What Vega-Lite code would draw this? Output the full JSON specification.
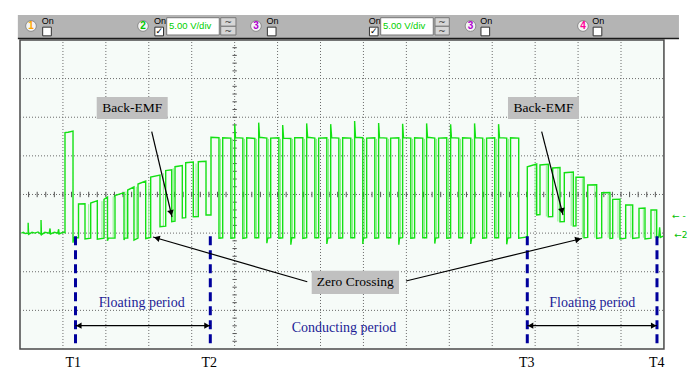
{
"$schema": "https://vega.github.io/schema/vega-lite/v6.json",
"width": 700, "height": 380,
"autosize": {"type": "fit", "contains": "padding"},
"padding": 0,
"background": "#ffffff",
"config": {"view": {"stroke": null}},
"encoding": {
 "x": {"field": "x", "type": "quantitative", "scale": {"domain": [-0.4659, 15.8401], "nice": false, "zero": false}, "axis": null},
 "y": {"field": "y", "type": "quantitative", "scale": {"domain": [-0.8025, 9.0344], "nice": false, "zero": false}, "axis": null}
},
"layer": [
 {"data": {"values": [{"x": -0.05, "x2": 15.35, "y": 8.05, "y2": 8.646}]},
  "mark": {"type": "rect", "fill": "#b4b4b4"},
  "encoding": {"x2": {"field": "x2"}, "y2": {"field": "y2"}}},
 {"data": {"values": [{"x": -0.05, "x2": 15.35, "y": 8.04}]},
  "mark": {"type": "rule", "stroke": "#1a1a1a", "strokeWidth": 1.5},
  "encoding": {"x2": {"field": "x2"}}},
 {"data": {"values": [{"x": 0, "x2": 15, "y": 0, "y2": 8}]},
  "mark": {"type": "rect", "fill": "#f6fbf8", "stroke": "#4a4a4a", "strokeWidth": 1.5},
  "encoding": {"x2": {"field": "x2"}, "y2": {"field": "y2"}}},
 {"data": {"values": [{"x":1,"y":0,"y2":8},{"x":2,"y":0,"y2":8},{"x":3,"y":0,"y2":8},{"x":4,"y":0,"y2":8},{"x":5,"y":0,"y2":8},{"x":6,"y":0,"y2":8},{"x":7,"y":0,"y2":8},{"x":8,"y":0,"y2":8},{"x":9,"y":0,"y2":8},{"x":10,"y":0,"y2":8},{"x":11,"y":0,"y2":8},{"x":12,"y":0,"y2":8},{"x":13,"y":0,"y2":8},{"x":14,"y":0,"y2":8}]},
  "mark": {"type": "rule", "stroke": "#6a6a6a", "strokeWidth": 1, "strokeDash": [1, 2]},
  "encoding": {"y2": {"field": "y2"}}},
 {"data": {"values": [{"y":1,"x":0,"x2":15},{"y":2,"x":0,"x2":15},{"y":3,"x":0,"x2":15},{"y":4,"x":0,"x2":15},{"y":5,"x":0,"x2":15},{"y":6,"x":0,"x2":15},{"y":7,"x":0,"x2":15}]},
  "mark": {"type": "rule", "stroke": "#6a6a6a", "strokeWidth": 1, "strokeDash": [1, 2]},
  "encoding": {"x2": {"field": "x2"}}},
 {"data": {"values": [{"x":0.2,"y":3.93,"y2":4.07},{"x":0.4,"y":3.93,"y2":4.07},{"x":0.6,"y":3.93,"y2":4.07},{"x":0.8,"y":3.93,"y2":4.07},{"x":1,"y":3.93,"y2":4.07},{"x":1.2,"y":3.93,"y2":4.07},{"x":1.4,"y":3.93,"y2":4.07},{"x":1.6,"y":3.93,"y2":4.07},{"x":1.8,"y":3.93,"y2":4.07},{"x":2,"y":3.93,"y2":4.07},{"x":2.2,"y":3.93,"y2":4.07},{"x":2.4,"y":3.93,"y2":4.07},{"x":2.6,"y":3.93,"y2":4.07},{"x":2.8,"y":3.93,"y2":4.07},{"x":3,"y":3.93,"y2":4.07},{"x":3.2,"y":3.93,"y2":4.07},{"x":3.4,"y":3.93,"y2":4.07},{"x":3.6,"y":3.93,"y2":4.07},{"x":3.8,"y":3.93,"y2":4.07},{"x":4,"y":3.93,"y2":4.07},{"x":4.2,"y":3.93,"y2":4.07},{"x":4.4,"y":3.93,"y2":4.07},{"x":4.6,"y":3.93,"y2":4.07},{"x":4.8,"y":3.93,"y2":4.07},{"x":5,"y":3.93,"y2":4.07},{"x":5.2,"y":3.93,"y2":4.07},{"x":5.4,"y":3.93,"y2":4.07},{"x":5.6,"y":3.93,"y2":4.07},{"x":5.8,"y":3.93,"y2":4.07},{"x":6,"y":3.93,"y2":4.07},{"x":6.2,"y":3.93,"y2":4.07},{"x":6.4,"y":3.93,"y2":4.07},{"x":6.6,"y":3.93,"y2":4.07},{"x":6.8,"y":3.93,"y2":4.07},{"x":7,"y":3.93,"y2":4.07},{"x":7.2,"y":3.93,"y2":4.07},{"x":7.4,"y":3.93,"y2":4.07},{"x":7.6,"y":3.93,"y2":4.07},{"x":7.8,"y":3.93,"y2":4.07},{"x":8,"y":3.93,"y2":4.07},{"x":8.2,"y":3.93,"y2":4.07},{"x":8.4,"y":3.93,"y2":4.07},{"x":8.6,"y":3.93,"y2":4.07},{"x":8.8,"y":3.93,"y2":4.07},{"x":9,"y":3.93,"y2":4.07},{"x":9.2,"y":3.93,"y2":4.07},{"x":9.4,"y":3.93,"y2":4.07},{"x":9.6,"y":3.93,"y2":4.07},{"x":9.8,"y":3.93,"y2":4.07},{"x":10,"y":3.93,"y2":4.07},{"x":10.2,"y":3.93,"y2":4.07},{"x":10.4,"y":3.93,"y2":4.07},{"x":10.6,"y":3.93,"y2":4.07},{"x":10.8,"y":3.93,"y2":4.07},{"x":11,"y":3.93,"y2":4.07},{"x":11.2,"y":3.93,"y2":4.07},{"x":11.4,"y":3.93,"y2":4.07},{"x":11.6,"y":3.93,"y2":4.07},{"x":11.8,"y":3.93,"y2":4.07},{"x":12,"y":3.93,"y2":4.07},{"x":12.2,"y":3.93,"y2":4.07},{"x":12.4,"y":3.93,"y2":4.07},{"x":12.6,"y":3.93,"y2":4.07},{"x":12.8,"y":3.93,"y2":4.07},{"x":13,"y":3.93,"y2":4.07},{"x":13.2,"y":3.93,"y2":4.07},{"x":13.4,"y":3.93,"y2":4.07},{"x":13.6,"y":3.93,"y2":4.07},{"x":13.8,"y":3.93,"y2":4.07},{"x":14,"y":3.93,"y2":4.07},{"x":14.2,"y":3.93,"y2":4.07},{"x":14.4,"y":3.93,"y2":4.07},{"x":14.6,"y":3.93,"y2":4.07},{"x":14.8,"y":3.93,"y2":4.07}]},
  "mark": {"type": "rule", "stroke": "#555555", "strokeWidth": 1},
  "encoding": {"y2": {"field": "y2"}}},
 {"data": {"values": [{"y":0.2,"x":4.95,"x2":5.05},{"y":0.4,"x":4.95,"x2":5.05},{"y":0.6,"x":4.95,"x2":5.05},{"y":0.8,"x":4.95,"x2":5.05},{"y":1,"x":4.95,"x2":5.05},{"y":1.2,"x":4.95,"x2":5.05},{"y":1.4,"x":4.95,"x2":5.05},{"y":1.6,"x":4.95,"x2":5.05},{"y":1.8,"x":4.95,"x2":5.05},{"y":2,"x":4.95,"x2":5.05},{"y":2.2,"x":4.95,"x2":5.05},{"y":2.4,"x":4.95,"x2":5.05},{"y":2.6,"x":4.95,"x2":5.05},{"y":2.8,"x":4.95,"x2":5.05},{"y":3,"x":4.95,"x2":5.05},{"y":3.2,"x":4.95,"x2":5.05},{"y":3.4,"x":4.95,"x2":5.05},{"y":3.6,"x":4.95,"x2":5.05},{"y":3.8,"x":4.95,"x2":5.05},{"y":4.2,"x":4.95,"x2":5.05},{"y":4.4,"x":4.95,"x2":5.05},{"y":4.6,"x":4.95,"x2":5.05},{"y":4.8,"x":4.95,"x2":5.05},{"y":5,"x":4.95,"x2":5.05},{"y":5.2,"x":4.95,"x2":5.05},{"y":5.4,"x":4.95,"x2":5.05},{"y":5.6,"x":4.95,"x2":5.05},{"y":5.8,"x":4.95,"x2":5.05},{"y":6,"x":4.95,"x2":5.05},{"y":6.2,"x":4.95,"x2":5.05},{"y":6.4,"x":4.95,"x2":5.05},{"y":6.6,"x":4.95,"x2":5.05},{"y":6.8,"x":4.95,"x2":5.05},{"y":7,"x":4.95,"x2":5.05},{"y":7.2,"x":4.95,"x2":5.05},{"y":7.4,"x":4.95,"x2":5.05},{"y":7.6,"x":4.95,"x2":5.05},{"y":7.8,"x":4.95,"x2":5.05}]},
  "mark": {"type": "rule", "stroke": "#555555", "strokeWidth": 1},
  "encoding": {"x2": {"field": "x2"}}},
 {"data": {"values": [
  {"x":1.6,"y":2.88,"y2":3.75},{"x":1.91,"y":2.88,"y2":3.83},{"x":2.17,"y":2.88,"y2":3.95},{"x":2.47,"y":2.88,"y2":4.08},{"x":2.71,"y":2.88,"y2":4.2},{"x":3.0,"y":2.88,"y2":4.3},{"x":3.34,"y":3.17,"y2":4.55},{"x":3.57,"y":3.3,"y2":4.68},{"x":4.1,"y":3.43,"y2":4.8},
  {"x":4.672,"y":2.86,"y2":5.44},{"x":4.951,"y":2.86,"y2":5.44},{"x":5.231,"y":2.86,"y2":5.44},{"x":5.51,"y":2.86,"y2":5.44},{"x":5.79,"y":2.86,"y2":5.44},{"x":6.069,"y":2.86,"y2":5.44},{"x":6.348,"y":2.86,"y2":5.44},{"x":6.628,"y":2.86,"y2":5.44},{"x":6.907,"y":2.86,"y2":5.44},{"x":7.187,"y":2.86,"y2":5.44},{"x":7.466,"y":2.86,"y2":5.44},{"x":7.745,"y":2.86,"y2":5.44},{"x":8.025,"y":2.86,"y2":5.44},{"x":8.304,"y":2.86,"y2":5.44},{"x":8.584,"y":2.86,"y2":5.44},{"x":8.863,"y":2.86,"y2":5.44},{"x":9.142,"y":2.86,"y2":5.44},{"x":9.422,"y":2.86,"y2":5.44},{"x":9.701,"y":2.86,"y2":5.44},{"x":9.981,"y":2.86,"y2":5.44},{"x":10.26,"y":2.86,"y2":5.44},{"x":10.539,"y":2.86,"y2":5.44},{"x":10.819,"y":2.86,"y2":5.44},{"x":11.098,"y":2.86,"y2":5.44},{"x":11.377,"y":2.86,"y2":5.44},
  {"x":12.0,"y":3.47,"y2":4.75},{"x":12.26,"y":3.43,"y2":4.75},{"x":12.53,"y":3.3,"y2":4.68},{"x":12.84,"y":3.19,"y2":4.55},{"x":13.1,"y":2.88,"y2":4.42},{"x":13.39,"y":2.88,"y2":4.22},{"x":13.7,"y":2.88,"y2":4.02},{"x":13.93,"y":2.88,"y2":3.85},{"x":14.23,"y":2.88,"y2":3.7},{"x":14.52,"y":2.88,"y2":3.62},{"x":14.79,"y":2.88,"y2":3.58}]},
  "mark": {"type": "rule", "stroke": "#8cf28c", "strokeWidth": 1},
  "encoding": {"y2": {"field": "y2"}}},
 {"data": {"values": [
  {"x":0.03,"y":3.0},{"x":0.08,"y":3.02},{"x":0.12,"y":2.99},{"x":0.19,"y":3.0},{"x":0.19,"y":3.27},{"x":0.2,"y":2.97},{"x":0.28,"y":3.02},{"x":0.35,"y":3.0},{"x":0.42,"y":3.03},{"x":0.49,"y":2.97},{"x":0.49,"y":3.34},{"x":0.5,"y":2.96},{"x":0.58,"y":3.02},{"x":0.68,"y":3.0},{"x":0.7,"y":3.12},{"x":0.71,"y":2.98},{"x":0.8,"y":3.02},{"x":0.88,"y":3.0},{"x":0.9,"y":3.1},{"x":0.91,"y":2.98},{"x":1.0,"y":3.02},{"x":1.048,"y":3.01},
  {"x":1.048,"y":5.6},{"x":1.12,"y":5.61},{"x":1.235,"y":5.64},{"x":1.235,"y":2.75},{"x":1.25,"y":2.88},{"x":1.363,"y":2.88},{"x":1.363,"y":3.754},{"x":1.514,"y":3.76},{"x":1.514,"y":2.85},{"x":1.647,"y":2.87},{"x":1.647,"y":3.779},{"x":1.801,"y":3.839},{"x":1.801,"y":2.84},{"x":1.957,"y":2.87},{"x":1.957,"y":3.875},{"x":2.038,"y":3.935},{"x":2.038,"y":2.8},{"x":2.06,"y":2.87},{"x":2.213,"y":2.87},{"x":2.213,"y":3.974},{"x":2.423,"y":4.046},{"x":2.423,"y":2.82},{"x":2.44,"y":2.87},{"x":2.509,"y":2.87},{"x":2.509,"y":4.116},{"x":2.655,"y":4.194},{"x":2.655,"y":2.82},{"x":2.749,"y":2.87},{"x":2.749,"y":4.271},{"x":2.928,"y":4.349},{"x":2.928,"y":2.86},{"x":3.044,"y":2.89},{"x":3.044,"y":4.452},{"x":3.261,"y":4.504},{"x":3.261,"y":3.166},{"x":3.394,"y":3.18},{"x":3.394,"y":4.616},{"x":3.534,"y":4.64},{"x":3.534,"y":3.295},{"x":3.611,"y":3.31},{"x":3.611,"y":4.719},{"x":3.781,"y":4.75},{"x":3.781,"y":3.391},{"x":3.86,"y":3.4},{"x":3.86,"y":4.823},{"x":4.037,"y":4.84},{"x":4.037,"y":3.425},{"x":4.153,"y":3.43},{"x":4.153,"y":4.849},{"x":4.333,"y":4.86},{"x":4.333,"y":3.469},{"x":4.449,"y":3.47},{"x":4.449,"y":5.48},{"x":4.635,"y":5.47},{"x":4.635,"y":2.87},
  {"x":4.722,"y":2.88},{"x":4.722,"y":5.47},{"x":4.912,"y":5.46},{"x":4.912,"y":2.87},
  {"x":5.001,"y":2.88},{"x":5.001,"y":5.82},{"x":5.02,"y":5.47},{"x":5.191,"y":5.46},{"x":5.191,"y":2.86},
  {"x":5.281,"y":2.88},{"x":5.281,"y":5.47},{"x":5.471,"y":5.45},{"x":5.471,"y":2.88},
  {"x":5.56,"y":2.88},{"x":5.56,"y":5.86},{"x":5.58,"y":5.48},{"x":5.75,"y":5.46},{"x":5.75,"y":2.74},{"x":5.77,"y":2.87},
  {"x":5.84,"y":2.88},{"x":5.84,"y":5.46},{"x":6.03,"y":5.47},{"x":6.03,"y":2.87},
  {"x":6.119,"y":2.88},{"x":6.119,"y":5.8},{"x":6.14,"y":5.46},{"x":6.309,"y":5.45},{"x":6.309,"y":2.7},{"x":6.33,"y":2.88},
  {"x":6.398,"y":2.88},{"x":6.398,"y":5.47},{"x":6.588,"y":5.47},{"x":6.588,"y":2.86},
  {"x":6.678,"y":2.88},{"x":6.678,"y":5.84},{"x":6.7,"y":5.48},{"x":6.868,"y":5.46},{"x":6.868,"y":2.88},
  {"x":6.957,"y":2.88},{"x":6.957,"y":5.46},{"x":7.147,"y":5.47},{"x":7.147,"y":2.72},{"x":7.17,"y":2.87},
  {"x":7.237,"y":2.88},{"x":7.237,"y":5.82},{"x":7.26,"y":5.47},{"x":7.427,"y":5.46},{"x":7.427,"y":2.87},
  {"x":7.516,"y":2.88},{"x":7.516,"y":5.47},{"x":7.706,"y":5.46},{"x":7.706,"y":2.88},
  {"x":7.795,"y":2.88},{"x":7.795,"y":5.9},{"x":7.815,"y":5.48},{"x":7.985,"y":5.47},{"x":7.985,"y":2.72},{"x":8.0,"y":2.87},
  {"x":8.075,"y":2.88},{"x":8.075,"y":5.46},{"x":8.265,"y":5.47},{"x":8.265,"y":2.87},
  {"x":8.354,"y":2.88},{"x":8.354,"y":5.85},{"x":8.374,"y":5.47},{"x":8.544,"y":5.46},{"x":8.544,"y":2.88},
  {"x":8.634,"y":2.88},{"x":8.634,"y":5.46},{"x":8.824,"y":5.47},{"x":8.824,"y":2.7},{"x":8.84,"y":2.87},
  {"x":8.913,"y":2.88},{"x":8.913,"y":5.83},{"x":8.933,"y":5.47},{"x":9.103,"y":5.46},{"x":9.103,"y":2.87},
  {"x":9.192,"y":2.88},{"x":9.192,"y":5.47},{"x":9.382,"y":5.46},{"x":9.382,"y":2.88},
  {"x":9.472,"y":2.88},{"x":9.472,"y":5.84},{"x":9.492,"y":5.48},{"x":9.662,"y":5.46},{"x":9.662,"y":2.73},{"x":9.68,"y":2.87},
  {"x":9.751,"y":2.88},{"x":9.751,"y":5.46},{"x":9.941,"y":5.47},{"x":9.941,"y":2.87},
  {"x":10.031,"y":2.88},{"x":10.031,"y":5.82},{"x":10.05,"y":5.47},{"x":10.221,"y":5.46},{"x":10.221,"y":2.88},
  {"x":10.31,"y":2.88},{"x":10.31,"y":5.47},{"x":10.5,"y":5.46},{"x":10.5,"y":2.72},{"x":10.52,"y":2.87},
  {"x":10.589,"y":2.88},{"x":10.589,"y":5.84},{"x":10.61,"y":5.47},{"x":10.779,"y":5.46},{"x":10.779,"y":2.87},
  {"x":10.869,"y":2.88},{"x":10.869,"y":5.46},{"x":11.059,"y":5.47},{"x":11.059,"y":2.88},
  {"x":11.148,"y":2.88},{"x":11.148,"y":5.82},{"x":11.17,"y":5.47},{"x":11.338,"y":5.46},{"x":11.338,"y":2.71},{"x":11.36,"y":2.87},
  {"x":11.427,"y":2.88},{"x":11.427,"y":5.47},{"x":11.617,"y":5.46},{"x":11.617,"y":2.87},
  {"x":11.817,"y":2.9},{"x":11.817,"y":4.719},{"x":12.036,"y":4.789},{"x":12.036,"y":3.469},{"x":12.113,"y":3.48},{"x":12.113,"y":4.763},{"x":12.306,"y":4.78},{"x":12.306,"y":3.425},{"x":12.409,"y":3.43},{"x":12.409,"y":4.686},{"x":12.579,"y":4.7},{"x":12.579,"y":3.295},{"x":12.679,"y":3.3},{"x":12.679,"y":4.564},{"x":12.889,"y":4.58},{"x":12.889,"y":3.184},{"x":12.951,"y":3.19},{"x":12.951,"y":4.445},{"x":13.138,"y":4.45},{"x":13.138,"y":2.88},{"x":13.224,"y":2.89},{"x":13.224,"y":4.245},{"x":13.433,"y":4.25},{"x":13.433,"y":2.86},{"x":13.55,"y":2.88},{"x":13.55,"y":4.046},{"x":13.743,"y":4.05},{"x":13.743,"y":2.86},{"x":13.806,"y":2.87},{"x":13.806,"y":3.875},{"x":13.976,"y":3.88},{"x":13.976,"y":2.85},{"x":14.109,"y":2.87},{"x":14.109,"y":3.728},{"x":14.272,"y":3.73},{"x":14.272,"y":2.86},{"x":14.419,"y":2.88},{"x":14.419,"y":3.642},{"x":14.559,"y":3.65},{"x":14.559,"y":2.85},{"x":14.698,"y":2.87},{"x":14.698,"y":3.598},{"x":14.831,"y":3.6},{"x":14.831,"y":2.87},{"x":14.88,"y":2.9},{"x":14.9,"y":3.15},{"x":14.92,"y":2.89},{"x":14.98,"y":2.92}
 ]},
  "mark": {"type": "line", "color": "#14e014", "strokeWidth": 1.4},
  "encoding": {"order": {"value": null}}},
 {"data": {"values": [{"x":1.293,"y":2.92,"y2":0.08},{"x":4.433,"y":2.92,"y2":0.08},{"x":11.817,"y":2.92,"y2":0.08},{"x":14.838,"y":2.92,"y2":0.08}]},
  "mark": {"type": "rule", "stroke": "#00009c", "strokeWidth": 3, "strokeDash": [9, 5]},
  "encoding": {"y2": {"field": "y2"}}},
 {"data": {"values": [
  {"x":3.068,"y":5.625,"x2":3.541,"y2":3.417},
  {"x":12.152,"y":5.625,"x2":12.649,"y2":3.469},
  {"x":6.692,"y":1.742,"x2":3.098,"y2":2.899},
  {"x":8.991,"y":1.76,"x2":13.091,"y2":2.861},
  {"x":1.293,"y":0.603,"x2":4.433,"y2":0.603},
  {"x":11.817,"y":0.603,"x2":14.838,"y2":0.603}]},
  "mark": {"type": "rule", "stroke": "#000000", "strokeWidth": 1.2},
  "encoding": {"x2": {"field": "x2"}, "y2": {"field": "y2"}}},
 {"data": {"values": [{"x":3.52,"y":3.52},{"x":12.626,"y":3.57}]},
  "mark": {"type": "point", "shape": "triangle-up", "filled": true, "color": "#000000", "size": 45, "angle": 166, "opacity": 1}},
 {"data": {"values": [{"x":3.187,"y":2.872}]},
  "mark": {"type": "point", "shape": "triangle-up", "filled": true, "color": "#000000", "size": 45, "angle": 286, "opacity": 1}},
 {"data": {"values": [{"x":13.0,"y":2.837}]},
  "mark": {"type": "point", "shape": "triangle-up", "filled": true, "color": "#000000", "size": 45, "angle": 76, "opacity": 1}},
 {"data": {"values": [{"x":1.37,"y":0.603},{"x":11.894,"y":0.603}]},
  "mark": {"type": "point", "shape": "triangle-left", "filled": true, "color": "#000000", "size": 40, "opacity": 1}},
 {"data": {"values": [{"x":4.356,"y":0.603},{"x":14.761,"y":0.603}]},
  "mark": {"type": "point", "shape": "triangle-right", "filled": true, "color": "#000000", "size": 40, "opacity": 1}},
 {"data": {"values": [
  {"x":1.787,"x2":3.441,"y":5.954,"y2":6.523},
  {"x":11.367,"x2":13.021,"y":5.954,"y2":6.523},
  {"x":6.795,"x2":8.828,"y":1.424,"y2":2.027}]},
  "mark": {"type": "rect", "fill": "#c0c0c0"},
  "encoding": {"x2": {"field": "x2"}, "y2": {"field": "y2"}}},
 {"data": {"values": [
  {"x":2.614,"y":6.239,"label":"Back-EMF"},
  {"x":12.194,"y":6.239,"label":"Back-EMF"},
  {"x":7.81,"y":1.725,"label":"Zero Crossing"}]},
  "mark": {"type": "text", "font": "Liberation Serif", "fontSize": 13.5, "color": "#000000", "align": "center", "baseline": "middle"},
  "encoding": {"text": {"field": "label"}}},
 {"data": {"values": [
  {"x":2.835,"y":1.199,"label":"Floating period"},
  {"x":13.331,"y":1.199,"label":"Floating period"},
  {"x":7.547,"y":0.544,"label":"Conducting period"}]},
  "mark": {"type": "text", "font": "Liberation Serif", "fontSize": 14, "color": "#1c1c96", "align": "center", "baseline": "middle"},
  "encoding": {"text": {"field": "label"}}},
 {"data": {"values": [
  {"x":1.242,"y":-0.362,"label":"T1"},
  {"x":4.41,"y":-0.362,"label":"T2"},
  {"x":11.803,"y":-0.362,"label":"T3"},
  {"x":14.831,"y":-0.362,"label":"T4"}]},
  "mark": {"type": "text", "font": "Liberation Serif", "fontSize": 14, "color": "#000000", "align": "center", "baseline": "middle"},
  "encoding": {"text": {"field": "label"}}},
 {"data": {"values": [{"x":0.256,"y":8.361},{"x":2.865,"y":8.361},{"x":5.497,"y":8.361},{"x":10.494,"y":8.361},{"x":13.114,"y":8.361}]},
  "mark": {"type": "point", "shape": "circle", "filled": true, "fill": "#f4f4f4", "stroke": "#8a8a8a", "strokeWidth": 1, "size": 115, "opacity": 1}},
 {"data": {"values": [
  {"x":0.256,"y":8.361,"label":"1","ch":"1"},
  {"x":2.865,"y":8.361,"label":"2","ch":"2"},
  {"x":5.497,"y":8.361,"label":"3","ch":"3"},
  {"x":10.494,"y":8.361,"label":"3","ch":"3"},
  {"x":13.114,"y":8.361,"label":"4","ch":"4"}]},
  "mark": {"type": "text", "font": "Liberation Sans", "fontSize": 10, "fontWeight": "bold", "align": "center", "baseline": "middle"},
  "encoding": {"text": {"field": "label"}, "color": {"field": "ch", "type": "nominal", "scale": {"domain": ["1","2","3","4"], "range": ["#ffa500","#00c800","#b000d0","#ff0099"]}, "legend": null}}},
 {"data": {"values": [{"x":0.648,"y":8.499,"label":"On"},{"x":3.262,"y":8.499,"label":"On"},{"x":5.883,"y":8.499,"label":"On"},{"x":8.261,"y":8.499,"label":"On"},{"x":10.859,"y":8.499,"label":"On"},{"x":13.472,"y":8.499,"label":"On"}]},
  "mark": {"type": "text", "font": "Liberation Sans", "fontSize": 9, "color": "#000000", "align": "center", "baseline": "middle"},
  "encoding": {"text": {"field": "label"}}},
 {"data": {"values": [{"x":0.629,"y":8.219},{"x":3.242,"y":8.219},{"x":5.863,"y":8.219},{"x":8.241,"y":8.219},{"x":10.839,"y":8.219},{"x":13.452,"y":8.219}]},
  "mark": {"type": "point", "shape": "square", "filled": true, "fill": "#ffffff", "stroke": "#333333", "strokeWidth": 1, "size": 75, "opacity": 1}},
 {"data": {"values": [{"x":3.242,"y":8.219,"label":"✓"},{"x":8.241,"y":8.219,"label":"✓"}]},
  "mark": {"type": "text", "font": "DejaVu Sans", "fontSize": 9, "fontWeight": "bold", "color": "#000000", "align": "center", "baseline": "middle"},
  "encoding": {"text": {"field": "label"}}},
 {"data": {"values": [{"x":3.417,"x2":4.642,"y":8.128,"y2":8.576},{"x":8.402,"x2":9.627,"y":8.128,"y2":8.576}]},
  "mark": {"type": "rect", "fill": "#ffffff", "stroke": "#777777", "strokeWidth": 1},
  "encoding": {"x2": {"field": "x2"}, "y2": {"field": "y2"}}},
 {"data": {"values": [{"x":3.471,"y":8.352,"label":"5.00 V/div"},{"x":8.456,"y":8.352,"label":"5.00 V/div"}]},
  "mark": {"type": "text", "font": "Liberation Sans", "fontSize": 9.5, "color": "#00d000", "align": "left", "baseline": "middle"},
  "encoding": {"text": {"field": "label"}}},
 {"data": {"values": [
  {"x":4.675,"x2":5.031,"y":8.354,"y2":8.576},{"x":4.675,"x2":5.031,"y":8.128,"y2":8.354},
  {"x":9.667,"x2":10.0,"y":8.354,"y2":8.576},{"x":9.667,"x2":10.0,"y":8.128,"y2":8.354}]},
  "mark": {"type": "rect", "fill": "#d6d6d6", "stroke": "#777777", "strokeWidth": 1},
  "encoding": {"x2": {"field": "x2"}, "y2": {"field": "y2"}}},
 {"data": {"values": [{"x":4.853,"y":8.47,"label":"~"},{"x":4.853,"y":8.24,"label":"~"},{"x":9.833,"y":8.47,"label":"~"},{"x":9.833,"y":8.24,"label":"~"}]},
  "mark": {"type": "text", "font": "DejaVu Sans", "fontSize": 9, "color": "#333333", "align": "center", "baseline": "middle"},
  "encoding": {"text": {"field": "label"}}},
 {"data": {"values": [{"x":15.19,"y":3.44,"label":"← -"},{"x":15.24,"y":2.96,"label":"←2"}]},
  "mark": {"type": "text", "font": "DejaVu Sans", "fontSize": 9, "color": "#00c000", "align": "left", "baseline": "middle"},
  "encoding": {"text": {"field": "label"}}}
]
}
